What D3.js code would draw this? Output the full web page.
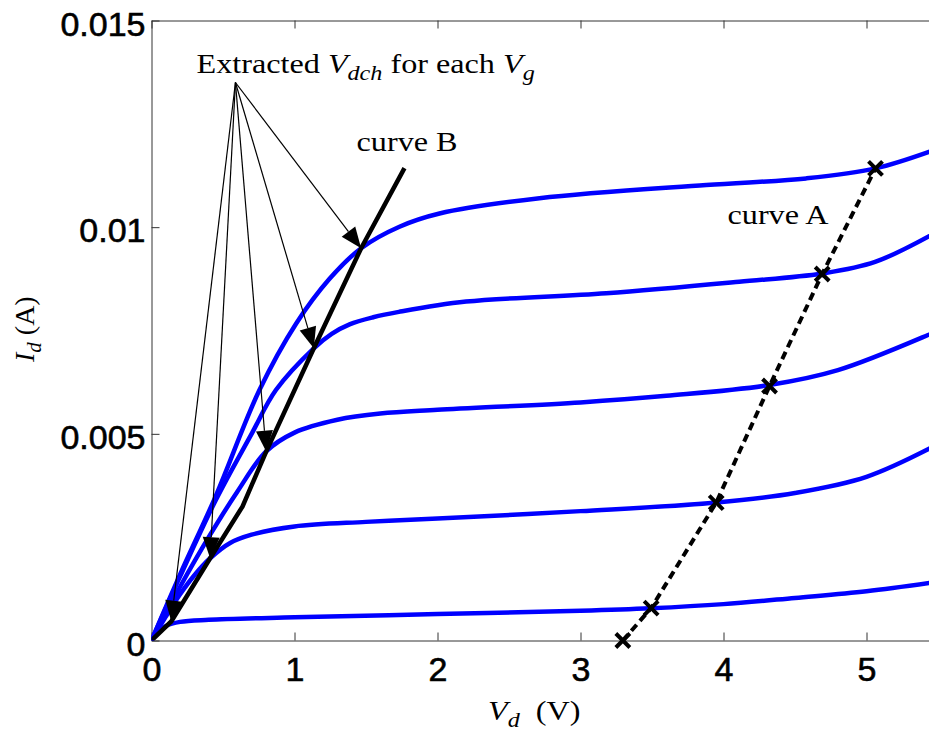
<!DOCTYPE html>
<html>
<head>
<meta charset="utf-8">
<script src="https://cdn.jsdelivr.net/npm/d3@7"></script>
<style>
  body { margin: 0; background: #fff; }
</style>
</head>
<body>
<div id="chart"></div>
<script>
// Id-Vd characteristics, one curve per gate voltage (Vd in V, Id in A)
const vd1 = [0, 0.05, 0.1, 0.2, 0.4, 1.0, 2.0, 3.0, 3.49, 4.0, 4.5, 5.0, 5.5];
const id1 = [0, 0.00022, 0.00035, 0.00045, 0.0005, 0.00056, 0.00064, 0.00072, 0.00078, 0.00088, 0.00103, 0.00119, 0.00142];

const vd2 = [0, 0.1, 0.2, 0.3, 0.41, 0.55, 0.7, 1.0, 1.5, 2.0, 3.0, 3.95, 4.5, 5.0, 5.5];
const id2 = [0, 0.00058, 0.00112, 0.00158, 0.00199, 0.00236, 0.00256, 0.00276, 0.00287, 0.00295, 0.00313, 0.00334, 0.00357, 0.00396, 0.00475];

const vd3 = [0, 0.2, 0.4, 0.6, 0.8, 1.0, 1.3, 1.6, 2.0, 3.0, 3.6, 4.32, 4.8, 5.43, 5.5];
const id3 = [0, 0.0013, 0.0025, 0.0036, 0.00457, 0.00503, 0.00534, 0.00549, 0.00558, 0.00576, 0.00592, 0.00618, 0.00654, 0.00739, 0.0075];

const vd4 = [0, 0.2, 0.45, 0.7, 0.87, 1.135, 1.26, 1.385, 1.55, 1.73, 2.2, 3.18, 4.11, 4.69, 5.06, 5.5];
const id4 = [0, 0.00155, 0.0034, 0.005, 0.00606, 0.00707, 0.00742, 0.00765, 0.00782, 0.00795, 0.0082, 0.0084, 0.00868, 0.00888, 0.00916, 0.0099];

const vd5 = [0, 0.2, 0.45, 0.755, 1.012, 1.245, 1.466, 1.734, 2.014, 2.713, 3.879, 4.578, 5.063, 5.5];
const id5 = [0, 0.0016, 0.0035, 0.00606, 0.00767, 0.00875, 0.00949, 0.01001, 0.01033, 0.0107, 0.01102, 0.01118, 0.011423, 0.0119];

// curve B (through the extracted Vdch points)
const vdB = [0, 0.138, 0.41, 0.636, 0.802, 1.135, 1.466, 1.769];
const idB = [0, 0.00046, 0.00199, 0.00324, 0.00457, 0.00707, 0.00949, 0.01143];

// extracted Vdch for each Vg (arrow targets)
const vdch = [0.138, 0.41, 0.802, 1.135, 1.466];
const idch = [0.00046, 0.00199, 0.00457, 0.00707, 0.00949];

// curve A (dashed, with x markers)
const vdA = [3.296, 3.494, 3.949, 4.322, 4.690, 5.063];
const idA = [0, 0.000783, 0.003337, 0.006158, 0.008866, 0.011423];

const xTicks = [0, 1, 2, 3, 4, 5];
const yTicks = [0, 0.005, 0.01, 0.015];

// where the annotation arrows start, and label anchors (data coords)
const arrowFrom = [0.587, 0.0135];
const labelExtracted = [0.315, 0.01373];
const labelCurveB = [1.434, 0.01184];
const labelCurveA = [4.028, 0.010075];

const W = 929, H = 738;

const svg = d3.select("#chart").append("svg")
    .attr("width", W)
    .attr("height", H);

const x = d3.scaleLinear().domain([0, 5.5]).range([151.5, 938]);
const y = d3.scaleLinear().domain([0, 0.015]).range([640.5, 20.5]);

svg.append("clipPath").attr("id", "plotclip")
    .append("rect")
    .attr("x", x(0)).attr("y", y(0.015))
    .attr("width", x(5.5) - x(0)).attr("height", y(0) - y(0.015));

// axes, MATLAB style with inward ticks
const axisColor = "#333";
const tickFont = "'Liberation Sans', Arial, sans-serif";

const gx = svg.append("g")
    .attr("transform", `translate(0,${y(0)})`)
    .call(d3.axisBottom(x).tickValues(xTicks).tickSizeInner(-8).tickSizeOuter(0).tickPadding(16).tickFormat(d3.format("d")));

const gxTop = svg.append("g")
    .attr("transform", `translate(0,${y(0.015)})`)
    .call(d3.axisTop(x).tickValues(xTicks).tickSizeInner(-8).tickSizeOuter(0).tickFormat(""));

const gy = svg.append("g")
    .attr("transform", `translate(${x(0)},0)`)
    .call(d3.axisLeft(y).tickValues(yTicks).tickSizeInner(-8).tickSizeOuter(0).tickPadding(6)
        .tickFormat(d => String(+d.toFixed(3))));

[gx, gxTop, gy].forEach(g => {
    g.selectAll("path.domain").attr("stroke", axisColor);
    g.selectAll(".tick line").attr("stroke", axisColor);
    g.selectAll("text")
        .attr("font-family", tickFont)
        .attr("font-size", 34)
        .attr("fill", "#000")
        .attr("stroke", "#000")
        .attr("stroke-width", 0.6);
});
gy.selectAll("text").attr("dy", "0.43em");

// blue Id-Vd curves
const plot = svg.append("g").attr("clip-path", "url(#plotclip)");

const idvd = [[vd1, id1], [vd2, id2], [vd3, id3], [vd4, id4], [vd5, id5]];
const smooth = d3.line()
    .x(d => x(d[0]))
    .y(d => y(d[1]))
    .curve(d3.curveCatmullRom.alpha(0.5));

plot.selectAll("path.idvd")
    .data(idvd)
    .join("path")
    .attr("class", "idvd")
    .attr("d", c => smooth(d3.zip(c[0], c[1])))
    .attr("fill", "none")
    .attr("stroke", "#0000ff")
    .attr("stroke-width", 4.5);

const straight = d3.line().x(d => x(d[0])).y(d => y(d[1]));

// curve B
plot.append("path")
    .attr("d", straight(d3.zip(vdB, idB)))
    .attr("fill", "none")
    .attr("stroke", "#000")
    .attr("stroke-width", 4.5);

// curve A
plot.append("path")
    .attr("d", straight(d3.zip(vdA, idA)))
    .attr("fill", "none")
    .attr("stroke", "#000")
    .attr("stroke-width", 4)
    .attr("stroke-dasharray", "8,5");

svg.selectAll("path.xmark")
    .data(d3.zip(vdA, idA))
    .join("path")
    .attr("class", "xmark")
    .attr("transform", d => `translate(${x(d[0])},${y(d[1])})`)
    .attr("d", "M-7,-7L7,7M-7,7L7,-7")
    .attr("stroke", "#000")
    .attr("stroke-width", 4);

// annotation arrows
const sx = x(arrowFrom[0]), sy = y(arrowFrom[1]);
const headLen = 21, headHalf = 8.5;
d3.zip(vdch, idch).forEach(p => {
    const tx = x(p[0]), ty = y(p[1]);
    const dx = tx - sx, dy = ty - sy;
    const len = Math.hypot(dx, dy);
    const ux = dx / len, uy = dy / len;
    const bx = tx - ux * headLen, by = ty - uy * headLen;
    svg.append("line")
        .attr("x1", sx).attr("y1", sy)
        .attr("x2", bx).attr("y2", by)
        .attr("stroke", "#000")
        .attr("stroke-width", 1.2);
    svg.append("path")
        .attr("d", `M${tx},${ty}L${bx - uy * headHalf},${by + ux * headHalf}L${bx + uy * headHalf},${by - ux * headHalf}Z`)
        .attr("fill", "#000");
});

// serif labels with italic subscripts
const serif = "'Liberation Serif', 'Times New Roman', serif";
function serifText(transform, parts) {
    const t = svg.append("text")
        .attr("transform", transform)
        .attr("font-family", serif)
        .attr("font-size", 28)
        .attr("fill", "#000")
        .attr("xml:space", "preserve");
    let wasSub = false;
    parts.forEach(([str, italic, sub]) => {
        const ts = t.append("tspan").text(str);
        if (italic) ts.attr("font-style", "italic");
        if (sub) ts.attr("font-size", 21);
        if (sub && !wasSub) ts.attr("dy", 7);
        if (!sub && wasSub) ts.attr("dy", -7);
        wasSub = sub;
    });
    return t;
}

const stretch = 1.15;
serifText(`translate(${x(labelExtracted[0])},${y(labelExtracted[1])}) scale(${stretch},1)`,
    [["Extracted ", false, false], ["V", true, false], ["dch", true, true],
     [" for each ", false, false], ["V", true, false], ["g", true, true]]);

serifText(`translate(${x(labelCurveB[0])},${y(labelCurveB[1])}) scale(${stretch},1)`,
    [["curve B", false, false]]);

serifText(`translate(${x(labelCurveA[0])},${y(labelCurveA[1])}) scale(${stretch},1)`,
    [["curve A", false, false]]);

// axis titles
serifText(`translate(488,720) scale(${stretch},1)`,
    [["V", true, false], ["d", true, true], ["  (V)", false, false]]);

serifText(`translate(34,362) rotate(-90)`,
    [["I", true, false], ["d", true, true], [" (A)", false, false]]);
</script>
</body>
</html>
